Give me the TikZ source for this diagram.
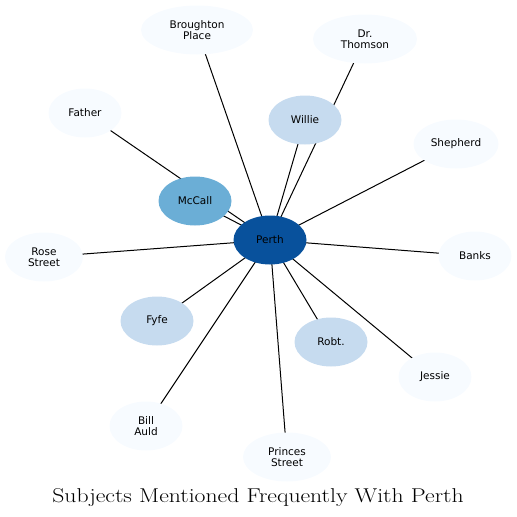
\documentclass[tikz,border=0pt]{standalone}
\usepackage{fontspec}
\setsansfont{DejaVu Sans}
\usetikzlibrary{shapes.geometric,backgrounds}
\definecolor{hubblue}{RGB}{8,81,156}
\definecolor{midblue}{RGB}{107,174,214}
\definecolor{lightblue}{RGB}{198,219,239}
\definecolor{paleblue}{RGB}{247,251,255}

\begin{document}
\begin{tikzpicture}[x=1pt,y=-1pt,
  subj/.style={ellipse,inner sep=0pt,minimum width=73pt,minimum height=49pt,
    align=center,font=\sffamily\fontsize{10.5}{11.5}\selectfont},
  link/.style={black,line width=1pt}]
  \useasboundingbox (0,0) rectangle (517,517);
  \node[subj,fill=hubblue]   (perth)   at (270,240) {Perth};
  \node[subj,fill=midblue]   (mccall)  at (195,201) {McCall};
  \node[subj,fill=lightblue] (willie)  at (305,120) {Willie};
  \node[subj,fill=lightblue] (fyfe)    at (157,321) {Fyfe};
  \node[subj,fill=lightblue] (robt)    at (331,342) {Robt.};
  \node[subj,fill=paleblue,minimum width=112pt] (broughton) at (197,30) {Broughton\\Place};
  \node[subj,fill=paleblue,minimum width=104pt] (thomson)   at (365,39) {Dr.\\Thomson};
  \node[subj,fill=paleblue]  (father)  at (85,113) {Father};
  \node[subj,fill=paleblue,minimum width=85pt] (shepherd) at (456,144) {Shepherd};
  \node[subj,fill=paleblue,minimum width=78pt] (rose)     at (44,257) {Rose\\Street};
  \node[subj,fill=paleblue]  (banks)   at (475,256) {Banks};
  \node[subj,fill=paleblue]  (jessie)  at (435,377) {Jessie};
  \node[subj,fill=paleblue]  (bill)    at (146,426) {Bill\\Auld};
  \node[subj,fill=paleblue,minimum width=88pt] (princes)  at (287,457) {Princes\\Street};
  % links run centre to centre, under the nodes
  \begin{scope}[on background layer]
    \foreach \other in {mccall,willie,fyfe,robt,broughton,thomson,father,
                        shepherd,rose,banks,jessie,bill,princes}
      \draw[link] (perth.center) -- (\other.center);
  \end{scope}
  \node[anchor=base,inner sep=0pt,font=\rmfamily\fontsize{20}{24}\selectfont] (title) at (258,502)
    {\scalebox{1.185}[1]{Subjects Mentioned Frequently With Perth}};
\end{tikzpicture}
\end{document}
